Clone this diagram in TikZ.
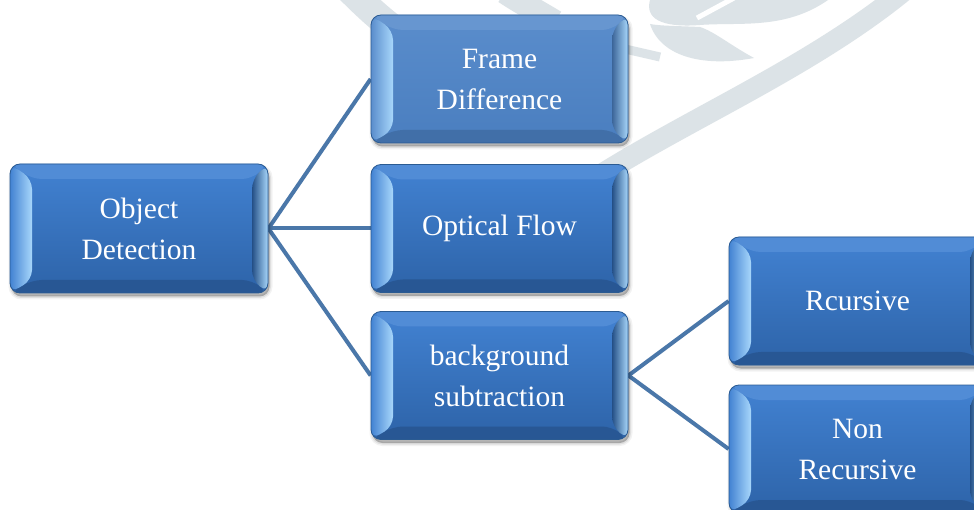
\documentclass[tikz,border=0pt]{standalone}
\usepackage{fontspec}
\setmainfont{Liberation Serif}
\usetikzlibrary{calc}

\definecolor{wm}{HTML}{DCE3E7}
\definecolor{link}{HTML}{4A77A9}
\definecolor{edge}{HTML}{2B5B92}
\definecolor{glow}{HTML}{A8D7FB}
\definecolor{faceA}{HTML}{4282D2}
\definecolor{faceB}{HTML}{2D63A8}
\definecolor{paleA}{HTML}{5A8DCC}
\definecolor{paleB}{HTML}{4A7EBF}

\pgfdeclarelayer{bg}
\pgfsetlayers{bg,main}

\tikzset{
  % soft drop shadow built from a few translucent copies
  softshadow/.style={
    preaction={draw=black, draw opacity=0.05, line width=6pt,
      transform canvas={xshift=1.5pt, yshift=-3.5pt}},
    preaction={draw=black, draw opacity=0.08, line width=3pt,
      transform canvas={xshift=1.5pt, yshift=-3.5pt}},
    preaction={fill=black, fill opacity=0.25,
      transform canvas={xshift=1.5pt, yshift=-3.5pt}}
  },
  % glossy bevelled box: #1 = upper face colour, #2 = lower face colour
  bevbox/.style 2 args={
    rectangle, rounded corners=10pt, draw=edge, line width=0.8pt,
    minimum width=257pt, minimum height=128pt, inner sep=0pt,
    align=center, text=white, font=\fontsize{29.5}{41}\selectfont,
    softshadow,
    top color=#1, bottom color=#2,
    path picture={
      \coordinate (oNW) at (path picture bounding box.north west);
      \coordinate (oNE) at (path picture bounding box.north east);
      \coordinate (oSW) at (path picture bounding box.south west);
      \coordinate (oSE) at (path picture bounding box.south east);
      \coordinate (iNW) at ($(oNW)+(22,15)$);
      \coordinate (iNE) at ($(oNE)+(-16,15)$);
      \coordinate (iSW) at ($(oSW)+(22,-13)$);
      \coordinate (iSE) at ($(oSE)+(-16,-13)$);
      \fill[#1!92!white] (oNW) -- (oNE) -- (iNE) -- (iNW) -- cycle;
      \fill[#2!88!black] (oSW) -- (oSE) -- (iSE) -- (iSW) -- cycle;
      \shade[left color=#1, middle color=#1!60!glow, right color=glow]
        (oNW) -- (iNW) -- (iSW) -- (oSW) -- cycle;
      \shade[left color=#2!80!black, middle color=glow!75!#1, right color=glow]
        (iNE) -- (oNE) -- (oSE) -- (iSE) -- cycle;
    }
  },
  linkline/.style={draw=link, line width=4pt}
}

\begin{document}
\begin{tikzpicture}[x=1pt, y=-1pt]
  \useasboundingbox (0,0) rectangle (974,510);

  % white page and faint leaf watermark in the background
  \begin{pgfonlayer}{bg}
    \fill[white] (0,0) rectangle (974,510);
    \draw[wm, line width=21pt] (560,202) .. controls (660,130) and (800,76) .. (905,-10);
    \fill[wm] (650,0) .. controls (645,18) and (660,28) .. (700,25)
              .. controls (740,22) and (785,30) .. (828,0) -- cycle;
    \fill[wm] (650,24) .. controls (660,55) and (700,68) .. (754,58)
              .. controls (730,45) and (715,32) .. (700,27)
              .. controls (680,26) and (660,26) .. (650,24) -- cycle;
    \draw[white, line width=5pt] (697,18) -- (734,-2);
    \draw[wm, line width=9pt] (612,46) -- (660,57);
    \draw[wm, line width=28pt] (345,-15) .. controls (360,0) and (375,15) .. (395,30);
    \draw[wm, line width=24pt] (505,-8) .. controls (520,2) and (535,10) .. (555,22);
  \end{pgfonlayer}

  % boxes
  \node[bevbox={faceA}{faceB}, minimum width=258pt, minimum height=129pt]
    (od) at (139,228.5) {Object\\Detection};
  \node[bevbox={paleA}{paleB}] (fd) at (499.5,79) {Frame\\Difference};
  \node[bevbox={faceA}{faceB}] (of) at (499.5,228.5) {Optical Flow};
  \node[bevbox={faceA}{faceB}] (bs) at (499.5,375.5) {background\\subtraction};
  \node[bevbox={faceA}{faceB}] (rc) at (857.5,301) {Rcursive};
  \node[bevbox={faceA}{faceB}] (nr) at (857.5,449) {Non\\Recursive};

  % connectors
  \begin{pgfonlayer}{bg}
    \draw[linkline] (od.east) -- (fd.west);
    \draw[linkline] (od.east) -- (of.west);
    \draw[linkline] (od.east) -- (bs.west);
    \draw[linkline] (bs.east) -- (rc.west);
    \draw[linkline] (bs.east) -- (nr.west);
  \end{pgfonlayer}
\end{tikzpicture}
\end{document}
